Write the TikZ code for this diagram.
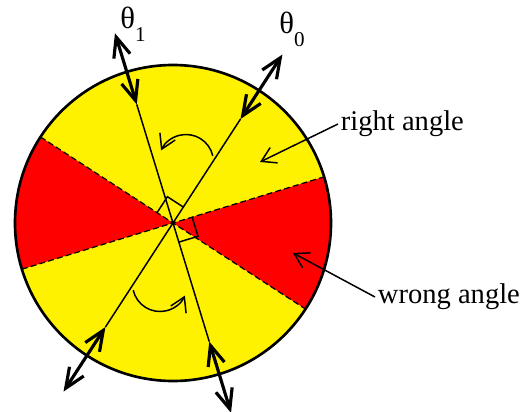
\documentclass[tikz,border=0pt]{standalone}
\usepackage{fontspec}
\setmainfont{Liberation Serif}
\newfontfamily\figfont{Liberation Serif}
\usepackage{tikz}
\usetikzlibrary{arrows.meta, calc}
\newcommand{\rad}{3.16}

\begin{document}
\begin{tikzpicture}[>={Straight Barb[length=0.28cm, width=0.34cm]}, font=\figfont\fontsize{16.25}{19}\selectfont]
\tikzset{
    thinline/.style={line width=0.85pt},
    cutline/.style={line width=0.7pt, dash pattern=on 3.4pt off 1.8pt},
    axisarrow/.style={line width=1.8pt, {Straight Barb[length=0.4cm, width=0.34cm]}-{Straight Barb[length=0.4cm, width=0.34cm]}},
    thetalbl/.style={anchor=base west, inner sep=0pt, font=\figfont\fontsize{17.5}{20}\selectfont},
}
\useasboundingbox (-3.46, -3.76) rectangle (7.02, 4.46);

% ── DISC ─────────────────────────────────────────────────────────
\coordinate (c) at (0, 0);
\fill[yellow] (c) circle (\rad);

% Wrong-angle sectors (bounded by the normals of theta_0 and theta_1)
\fill[red] (c) -- (147:\rad) arc (147:197:\rad) -- cycle;
\fill[red] (c) -- (-33:\rad) arc (-33:17:\rad) -- cycle;
\draw[cutline] (147:\rad) -- (-33:\rad);
\draw[cutline] (197:\rad) -- (17:\rad);
\draw[line width=1.5pt] (c) circle (\rad);

% ── AXES ─────────────────────────────────────────────────────────
\coordinate (a0in) at (57:2.48);
\coordinate (a0out) at (57:4.02);
\coordinate (b0in) at (237:2.48);
\coordinate (b0out) at (237:4.02);
\coordinate (a1in) at (107:2.48);
\coordinate (a1out) at (107:3.97);
\coordinate (b1in) at (287:2.48);
\coordinate (b1out) at (287:3.97);

\draw[thinline] (b0in) -- (a0in);
\draw[thinline] (b1in) -- (a1in);
\draw[axisarrow] (a0in) -- (a0out);
\draw[axisarrow] (b0in) -- (b0out);
\draw[axisarrow] (a1in) -- (a1out);
\draw[axisarrow] (b1in) -- (b1out);

% Right angle marks
\draw[thinline] (57:0.38) -- ++(147:0.38) -- (147:0.38);
\draw[thinline] (-73:0.4) -- ++(17:0.4) -- (17:0.4);

% Rotation arrows
\draw[thinline, ->] (0.26, 1.22) ++(13:0.55) arc (13:155:0.55);
\draw[thinline, ->] (-0.26, -1.22) ++(193:0.55) arc (193:335:0.55);

% ── LABELS ───────────────────────────────────────────────────────
\node[thetalbl] (theta1) at (-1.06, 3.90) {θ\raisebox{-7.5pt}{\fontsize{12}{14}\selectfont 1}};
\node[thetalbl] (theta0) at (2.12, 3.80) {θ\raisebox{-7.5pt}{\fontsize{12}{14}\selectfont 0}};

\node[anchor=west, inner sep=1.5pt] (rightlbl) at (3.30, 1.98) {right angle};
\coordinate (righttip) at (1.74, 1.22);
\draw[thinline, ->] (rightlbl.west) -- (righttip);

\node[anchor=west, inner sep=1.5pt] (wronglbl) at (4.04, -1.48) {wrong angle};
\coordinate (wrongtip) at (2.40, -0.60);
\draw[thinline, ->] (wronglbl.west) -- (wrongtip);

\end{tikzpicture}
\end{document}
